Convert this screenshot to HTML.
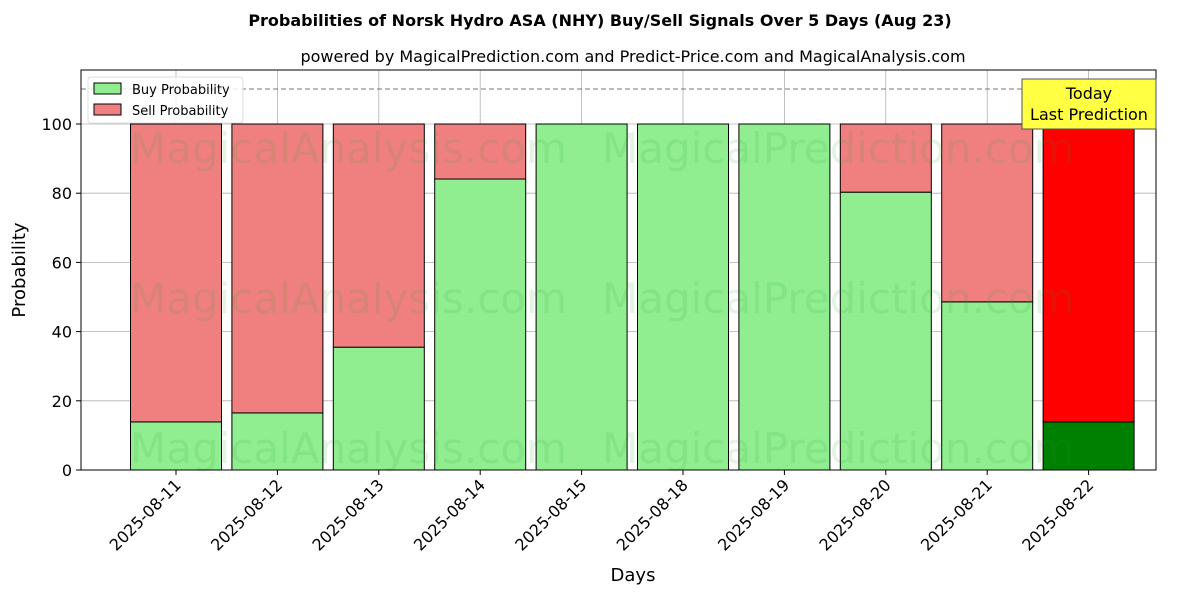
<!DOCTYPE html>
<html><head><meta charset="utf-8"><style>
body{margin:0;background:#fff;font-family:"DejaVu Sans","Liberation Sans",sans-serif;}
svg text{font-family:"DejaVu Sans","Liberation Sans",sans-serif;}
</style></head><body>
<svg id="chart" width="1200" height="600" xmlns="http://www.w3.org/2000/svg">
<rect width="1200" height="600" fill="#fff"/>
<text x="600" y="26" text-anchor="middle" font-size="16" font-weight="bold">Probabilities of Norsk Hydro ASA (NHY) Buy/Sell Signals Over 5 Days (Aug 23)</text>
<text x="633" y="62" text-anchor="middle" font-size="16">powered by MagicalPrediction.com and Predict-Price.com and MagicalAnalysis.com</text>
<g id="grid"></g>
<g id="bars"></g>
<g id="wm" fill="#2ca02c" fill-opacity="0.12" font-size="42">
<text x="130" y="163">MagicalAnalysis.com</text>
<text x="602" y="163">MagicalPrediction.com</text>
<text x="130" y="313">MagicalAnalysis.com</text>
<text x="602" y="313">MagicalPrediction.com</text>
<text x="130" y="463">MagicalAnalysis.com</text>
<text x="602" y="463">MagicalPrediction.com</text>
</g>
<line x1="81" x2="1156" y1="89" y2="89" stroke="#777" stroke-dasharray="5,3"/>
<rect x="81" y="70" width="1075" height="400" fill="none" stroke="#000"/>
<g id="axes"></g>
<text x="25" y="270" transform="rotate(-90 25 270)" text-anchor="middle" font-size="18">Probability</text>
<text x="633" y="581" text-anchor="middle" font-size="18">Days</text>
<g>
<rect x="88" y="77" width="155" height="46" fill="#fff" fill-opacity="0.8" stroke="#ddd" rx="3"/>
<rect x="94" y="83" width="27" height="11" fill="#90ee90" stroke="#000"/>
<text x="132" y="94" font-size="13">Buy Probability</text>
<rect x="94" y="104" width="27" height="11" fill="#f08080" stroke="#000"/>
<text x="132" y="115" font-size="13">Sell Probability</text>
</g>
<g>
<rect x="1022" y="79" width="134" height="50" fill="#ffff44" stroke="#555"/>
<text x="1089" y="99" text-anchor="middle" font-size="16">Today</text>
<text x="1089" y="120" text-anchor="middle" font-size="16">Last Prediction</text>
</g>
</svg>
<script>
const categories=["2025-08-11","2025-08-12","2025-08-13","2025-08-14","2025-08-15","2025-08-18","2025-08-19","2025-08-20","2025-08-21","2025-08-22"];
const buyValues=[13.9,16.5,35.5,84.1,100,100,100,80.3,48.6,13.9];
const sellValues=[86.1,83.5,64.5,15.9,0,0,0,19.7,51.4,86.1];
const yTicks=[0,20,40,60,80,100];
const NS="http://www.w3.org/2000/svg";
const y=v=>470-v*3.46;
const x=i=>176+i*101.4;
const bw=91;
function mk(t,a,p){const e=document.createElementNS(NS,t);for(const k in a)e.setAttribute(k,a[k]);p.appendChild(e);return e;}
const grid=document.getElementById('grid'),bars=document.getElementById('bars'),axes=document.getElementById('axes');
yTicks.forEach(t=>{
 const g=mk('line',{x1:81,x2:1156,y1:y(t),y2:y(t),stroke:'#b0b0b0','stroke-width':0.8},grid);
 
 
 mk('line',{x1:76,x2:81,y1:y(t),y2:y(t),stroke:'#000'},axes);
 const tx=mk('text',{x:72,y:y(t)+6,'text-anchor':'end','font-size':16},axes);
 tx.textContent=t;
 
 
});
categories.forEach((c,i)=>{
 const g=mk('line',{x1:x(i),x2:x(i),y1:70,y2:470,stroke:'#b0b0b0','stroke-width':0.8},grid);
 
 
 const last=i===categories.length-1;
 const b=mk('rect',{x:x(i)-bw/2,y:y(buyValues[i]),width:bw,height:y(0)-y(buyValues[i]),fill:last?'#008000':'#90ee90',stroke:'#000','stroke-width':1},bars);
 
 
 const s=mk('rect',{x:x(i)-bw/2,y:y(buyValues[i]+sellValues[i]),width:bw,height:y(buyValues[i])-y(buyValues[i]+sellValues[i]),fill:last?'#ff0000':'#f08080',stroke:'#000','stroke-width':1},bars);
 
 
 mk('line',{x1:x(i),x2:x(i),y1:470,y2:475,stroke:'#000'},axes);
 const tx=mk('text',{x:x(i)+6,y:486,'text-anchor':'end','font-size':16,transform:`rotate(-45 ${x(i)+6} 486)`},axes);
 tx.textContent=c;
 
 
});
</script>
</body></html>
